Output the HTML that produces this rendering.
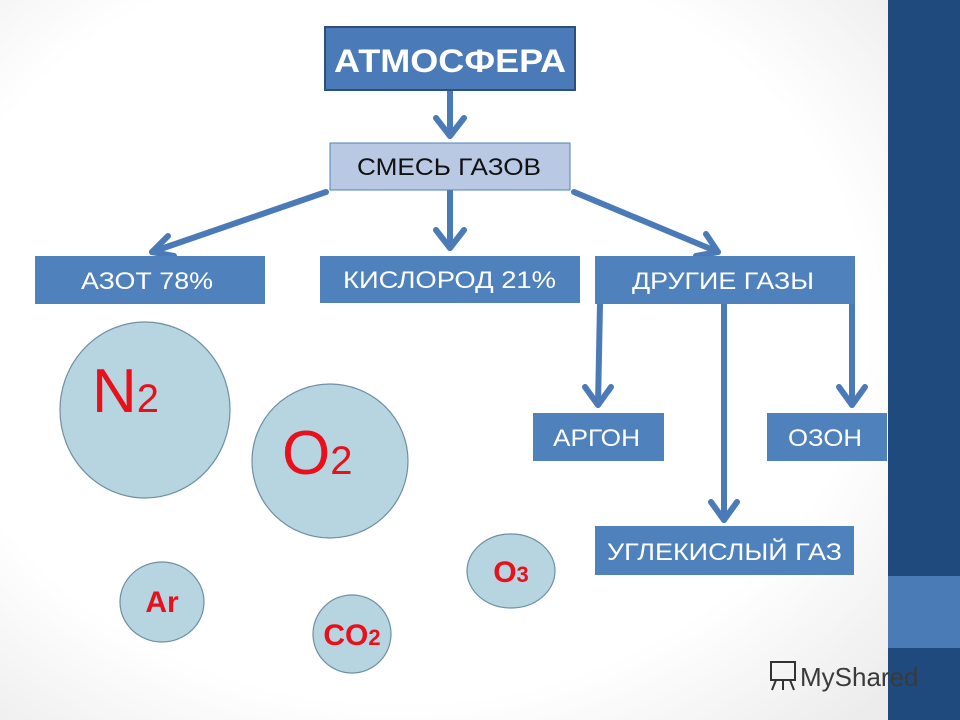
<!DOCTYPE html>
<html><head><meta charset="utf-8"><style>
html,body{margin:0;padding:0;width:960px;height:720px;overflow:hidden;background:#fff}
svg text{font-family:"Liberation Sans","DejaVu Sans",sans-serif}
</style></head><body>
<svg width="960" height="720" viewBox="0 0 960 720" xmlns="http://www.w3.org/2000/svg">
<defs>
<radialGradient id="bg" cx="0.45" cy="0.45" r="0.75">
<stop offset="0.7" stop-color="#ffffff"/><stop offset="1" stop-color="#ececec"/></radialGradient>
</defs>
<rect x="0" y="0" width="888" height="720" fill="url(#bg)"/>
<rect x="888" y="0" width="72" height="720" fill="#1f4a7e"/>
<rect x="888" y="576" width="72" height="72" fill="#4a7bb7"/>

<g stroke="#4a7ab8" stroke-width="6" fill="none" stroke-linecap="round" stroke-linejoin="round">
<line x1="450" y1="90" x2="450" y2="136"/><polyline points="436,118 450,136 464,118"/>
<line x1="450" y1="190" x2="450" y2="248"/><polyline points="436,230 450,248 464,230"/>
<line x1="326" y1="192" x2="152" y2="252"/><polyline points="168,236 152,252 174,256"/>
<line x1="574" y1="192" x2="718" y2="252"/><polyline points="696,256 718,252 706,234"/>
<line x1="600" y1="304" x2="598" y2="405"/><polyline points="585,387 598,405 611,387"/>
<line x1="724" y1="304" x2="724" y2="520"/><polyline points="711,502 724,520 737,502"/>
<line x1="852" y1="304" x2="852" y2="405"/><polyline points="839,387 852,405 865,387"/>
</g>

<g fill="#4f81bd">
<rect x="325" y="27" width="250" height="63" fill="#4a7ab8" stroke="#2c4f7c" stroke-width="2"/>
<rect x="35" y="256" width="230" height="48"/>
<rect x="320" y="256" width="260" height="47"/>
<rect x="595" y="256" width="260" height="48"/>
<rect x="533" y="413" width="131" height="48"/>
<rect x="767" y="413" width="120" height="48"/>
<rect x="595" y="526" width="259" height="49"/>
</g>
<rect x="330" y="143" width="240" height="47" fill="#b9c9e3" stroke="#4f81bd" stroke-width="1"/>

<g fill="#fff" font-size="24" lengthAdjust="spacingAndGlyphs">
<text x="334" y="72" font-size="32" font-weight="bold" textLength="232" lengthAdjust="spacingAndGlyphs">АТМОСФЕРА</text>
<text x="81" y="289" textLength="132" lengthAdjust="spacingAndGlyphs">АЗОТ 78%</text>
<text x="343" y="288" textLength="213" lengthAdjust="spacingAndGlyphs">КИСЛОРОД 21%</text>
<text x="632" y="289" textLength="182" lengthAdjust="spacingAndGlyphs">ДРУГИЕ ГАЗЫ</text>
<text x="553" y="446" textLength="87" lengthAdjust="spacingAndGlyphs">АРГОН</text>
<text x="788" y="446" textLength="74" lengthAdjust="spacingAndGlyphs">ОЗОН</text>
<text x="607" y="560" textLength="235" lengthAdjust="spacingAndGlyphs">УГЛЕКИСЛЫЙ ГАЗ</text>
</g>
<text x="357" y="175" font-size="24" fill="#111" textLength="184" lengthAdjust="spacingAndGlyphs">СМЕСЬ ГАЗОВ</text>

<g fill="#b7d5e0" stroke="#6f8fa3" stroke-width="1.2">
<ellipse cx="145" cy="410" rx="85" ry="88"/>
<ellipse cx="330" cy="461" rx="78" ry="77"/>
<ellipse cx="162" cy="602" rx="42" ry="40"/>
<ellipse cx="352" cy="634" rx="39" ry="39"/>
<ellipse cx="511" cy="571" rx="44" ry="37"/>
</g>
<g fill="#e8101a">
<text x="92" y="412" font-size="62">N<tspan font-size="40">2</tspan></text>
<text x="282" y="474" font-size="62">O<tspan font-size="40">2</tspan></text>
<text x="162" y="612" font-size="30" font-weight="bold" text-anchor="middle">Ar</text>
<text x="352" y="645" font-size="30" font-weight="bold" text-anchor="middle">CO<tspan font-size="22">2</tspan></text>
<text x="511" y="582" font-size="30" font-weight="bold" text-anchor="middle">O<tspan font-size="22">3</tspan></text>
</g>

<g stroke="#333" stroke-width="2" fill="none">
<rect x="771" y="662" width="24" height="18"/>
<line x1="776" y1="680" x2="772" y2="690"/><line x1="783" y1="680" x2="783" y2="690"/><line x1="790" y1="680" x2="794" y2="690"/>
</g>
<text x="800" y="686" font-size="26" fill="#3a3a3a">MyShared</text>
</svg>
</body></html>
